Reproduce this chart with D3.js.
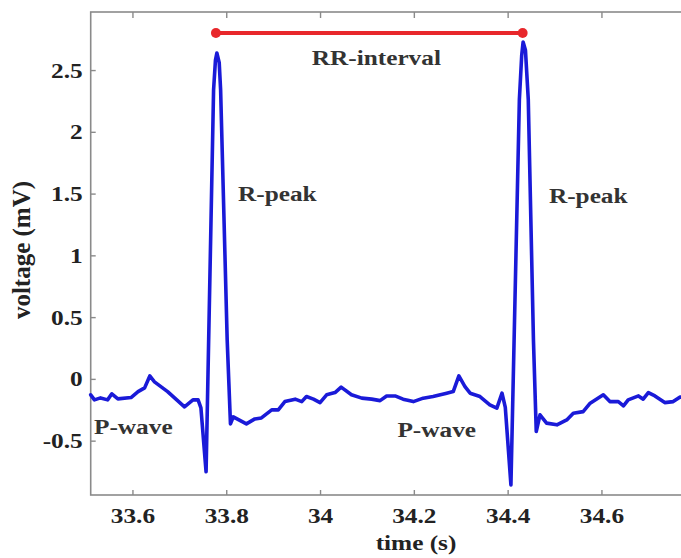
<!DOCTYPE html>
<html>
<head>
<meta charset="utf-8">
<script src="https://cdn.jsdelivr.net/npm/d3@7"></script>
<style>
  html, body { margin: 0; padding: 0; background: #fff; }
  svg { display: block; }
  text { font-family: "Liberation Serif", "Times New Roman", serif; font-weight: bold; }
</style>
</head>
<body>
<svg id="chart" width="681" height="558"></svg>
<script>
// ECG trace
const times = [33.511, 33.519, 33.532, 33.547, 33.556, 33.569, 33.597, 33.612, 33.626, 33.637,
  33.647, 33.675, 33.711, 33.729, 33.740, 33.746, 33.757, 33.773, 33.777, 33.780,
  33.785, 33.788, 33.802, 33.809, 33.815, 33.827, 33.843, 33.861, 33.875, 33.897,
  33.911, 33.925, 33.947, 33.961, 33.971, 33.986, 34.000, 34.014, 34.032, 34.045,
  34.067, 34.089, 34.110, 34.128, 34.142, 34.160, 34.177, 34.199, 34.220, 34.241,
  34.270, 34.284, 34.296, 34.309, 34.320, 34.341, 34.362, 34.377, 34.388, 34.395,
  34.407, 34.425, 34.430, 34.433, 34.438, 34.444, 34.455, 34.461, 34.469, 34.483,
  34.505, 34.526, 34.540, 34.561, 34.576, 34.604, 34.618, 34.636, 34.647, 34.657,
  34.679, 34.689, 34.700, 34.714, 34.735, 34.753, 34.767, 34.789];
const voltage = [-0.129, -0.170, -0.154, -0.170, -0.121, -0.162, -0.151, -0.103, -0.073, 0.024,
  -0.024, -0.103, -0.227, -0.170, -0.170, -0.235, -0.752, 2.34, 2.58, 2.638,
  2.56, 2.34, 0.316, -0.364, -0.307, -0.332, -0.364, -0.324, -0.316, -0.251,
  -0.251, -0.184, -0.164, -0.184, -0.143, -0.164, -0.192, -0.129, -0.111, -0.067,
  -0.129, -0.156, -0.164, -0.176, -0.138, -0.138, -0.164, -0.184, -0.156, -0.143,
  -0.116, -0.103, 0.024, -0.062, -0.116, -0.143, -0.210, -0.237, -0.116, -0.231,
  -0.858, 2.26, 2.62, 2.727, 2.66, 2.26, 0.316, -0.426, -0.291, -0.358,
  -0.372, -0.332, -0.278, -0.265, -0.197, -0.129, -0.184, -0.184, -0.218, -0.170,
  -0.138, -0.164, -0.111, -0.138, -0.192, -0.184, -0.148, -0.146];

// RR interval marker (the two R peaks)
const rrTimes = [33.778, 34.432];
const rrLevel = 2.8;

// tick labels
const xTicks = [33.6, 33.8, 34, 34.2, 34.4, 34.6];
const yTicks = [-0.5, 0, 0.5, 1, 1.5, 2, 2.5];

// annotations
const noteText = ["RR-interval", "R-peak", "R-peak", "P-wave", "P-wave"];
const noteTime = [34.120, 33.825, 34.488, 33.518, 34.165];
const noteVolt = [2.54, 1.44, 1.424, -0.445, -0.472];
const noteAnchor = ["middle", "start", "start", "start", "start"];

const svg = d3.select("#chart");
const STRETCH = 1.15; // the picture is a bit wider than tall

const plotLeft = 90.7, plotTop = 12, plotBottom = 495;
const x = d3.scaleLinear().domain([33.511, 34.85]).range([plotLeft, plotLeft + (34.85 - 33.511) * 469]);
const y = d3.scaleLinear().domain([-0.94, 2.97]).range([plotBottom, plotTop]);
const plotRight = x.range()[1];

const axisColor = "#8a8a8a";

// frame
svg.append("rect")
  .attr("x", plotLeft).attr("y", plotTop)
  .attr("width", plotRight - plotLeft).attr("height", plotBottom - plotTop)
  .attr("fill", "none").attr("stroke", axisColor).attr("stroke-width", 1.6);

// bottom axis, ticks pointing in
const xAxis = svg.append("g")
  .attr("transform", `translate(0,${plotBottom})`)
  .call(d3.axisBottom(x).tickValues(xTicks).tickSize(-5).tickPadding(12).tickFormat(d => String(d)));
xAxis.select(".domain").remove();
xAxis.selectAll(".tick line").attr("stroke", axisColor).attr("stroke-width", 1.4);
xAxis.selectAll(".tick text")
  .attr("fill", "#222").style("font-size", "22px")
  .attr("dy", "0.71em")
  .attr("transform", `scale(${STRETCH},1)`);

// top ticks
const xTop = svg.append("g")
  .attr("transform", `translate(0,${plotTop})`)
  .call(d3.axisTop(x).tickValues(xTicks.concat([34.8])).tickSize(-6).tickFormat(""));
xTop.select(".domain").remove();
xTop.selectAll(".tick line").attr("stroke", axisColor).attr("stroke-width", 1.4);

// left axis
const yAxis = svg.append("g")
  .attr("transform", `translate(${plotLeft},0)`)
  .call(d3.axisLeft(y).tickValues(yTicks).tickSize(-5).tickPadding(8).tickFormat(d => String(d)));
yAxis.select(".domain").remove();
yAxis.selectAll(".tick line").attr("stroke", axisColor).attr("stroke-width", 1.4);
yAxis.selectAll(".tick text")
  .attr("fill", "#222").style("font-size", "22px")
  .attr("x", -8 / STRETCH)
  .attr("transform", `scale(${STRETCH},1)`);

// axis titles
svg.append("text")
  .attr("transform", `translate(416,550) scale(${STRETCH},1)`)
  .attr("text-anchor", "middle").attr("fill", "#222")
  .style("font-size", "22px")
  .text("time (s)");

svg.append("text")
  .attr("transform", `translate(30,250) rotate(-90)`)
  .attr("text-anchor", "middle").attr("fill", "#222")
  .style("font-size", "25px")
  .text("voltage (mV)");

// ECG line
const ecg = times.map((t, i) => [t, voltage[i]]);
svg.append("path")
  .datum(ecg)
  .attr("fill", "none")
  .attr("stroke", "#1a1ad8")
  .attr("stroke-width", 3.6)
  .attr("stroke-linejoin", "round")
  .attr("stroke-linecap", "round")
  .attr("d", d3.line().x(d => x(d[0])).y(d => y(d[1])));

// RR interval bar
svg.append("line")
  .attr("x1", x(rrTimes[0])).attr("x2", x(rrTimes[1]))
  .attr("y1", y(rrLevel)).attr("y2", y(rrLevel))
  .attr("stroke", "#e8272b").attr("stroke-width", 4);
svg.selectAll("circle.rr")
  .data(rrTimes)
  .join("circle")
  .attr("class", "rr")
  .attr("cx", d => x(d)).attr("cy", y(rrLevel))
  .attr("r", 5).attr("fill", "#e8272b");

// annotations
svg.selectAll("text.note")
  .data(noteText)
  .join("text")
  .attr("class", "note")
  .attr("transform", (d, i) => `translate(${x(noteTime[i])},${y(noteVolt[i])}) scale(${STRETCH},1)`)
  .attr("text-anchor", (d, i) => noteAnchor[i])
  .attr("fill", "#333")
  .style("font-size", "22px")
  .text(d => d);
</script>
</body>
</html>
